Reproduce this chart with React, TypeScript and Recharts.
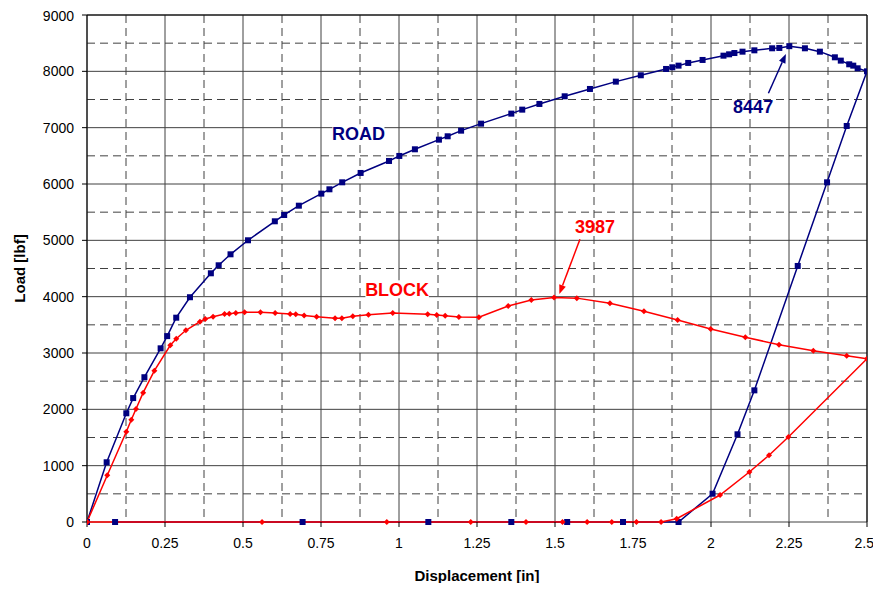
import React from 'react';
import { LineChart, Line, XAxis, YAxis, CartesianGrid, ReferenceLine, ReferenceDot, Label } from 'recharts';

// ROAD: loading curve, unload ramp, then back along zero
const roadX = [0, 0.063, 0.126, 0.148, 0.184, 0.236, 0.257, 0.286, 0.33, 0.397, 0.422, 0.46, 0.516, 0.602, 0.632, 0.679, 0.751, 0.777, 0.818, 0.877, 0.968, 1.001, 1.051, 1.128, 1.156, 1.199, 1.263, 1.36, 1.395, 1.45, 1.531, 1.612, 1.695, 1.775, 1.856, 1.876, 1.896, 1.927, 1.973, 2.04, 2.058, 2.075, 2.101, 2.139, 2.196, 2.219, 2.251, 2.301, 2.349, 2.397, 2.416, 2.443, 2.456, 2.47, 2.5, 2.435, 2.372, 2.278, 2.139, 2.085, 2.005, 1.896, 1.718, 1.539, 1.36, 1.094, 0.691, 0.09];
const roadY = [0, 1060, 1930, 2200, 2570, 3083, 3300, 3627, 3990, 4415, 4557, 4752, 5001, 5338, 5450, 5615, 5829, 5906, 6030, 6196, 6409, 6498, 6616, 6787, 6847, 6947, 7071, 7249, 7320, 7421, 7557, 7687, 7817, 7930, 8042, 8072, 8101, 8149, 8202, 8278, 8302, 8325, 8349, 8373, 8409, 8415, 8447, 8409, 8349, 8249, 8190, 8125, 8101, 8054, 8000, 7030, 6030, 4545, 2337, 1557, 502, 0, 0, 0, 0, 0, 0, 0];

const blockX = [0, 0.065, 0.126, 0.142, 0.157, 0.18, 0.216, 0.267, 0.286, 0.317, 0.362, 0.379, 0.404, 0.441, 0.456, 0.477, 0.505, 0.556, 0.603, 0.651, 0.669, 0.696, 0.736, 0.795, 0.817, 0.852, 0.902, 0.98, 1.092, 1.121, 1.148, 1.192, 1.256, 1.35, 1.424, 1.497, 1.57, 1.676, 1.785, 1.893, 1.999, 2.11, 2.218, 2.328, 2.435, 2.5, 2.248, 2.186, 2.123, 2.029, 1.89, 1.84, 1.761, 1.682, 1.603, 1.524, 1.407, 1.23, 0.961, 0.561, 0];
const blockY = [0, 829, 1603, 1816, 2006, 2296, 2686, 3137, 3254, 3403, 3556, 3604, 3645, 3692, 3698, 3710, 3723, 3723, 3710, 3692, 3687, 3666, 3642, 3616, 3616, 3651, 3680, 3710, 3687, 3675, 3663, 3639, 3634, 3835, 3941, 3987, 3974, 3882, 3740, 3586, 3426, 3279, 3148, 3041, 2952, 2899, 1509, 1184, 888, 479, 59, 0, 0, 0, 0, 0, 0, 0, 0, 0, 0];

const xTicks = [0, 0.25, 0.5, 0.75, 1, 1.25, 1.5, 1.75, 2, 2.25, 2.5];
const yTicks = [0, 1000, 2000, 3000, 4000, 5000, 6000, 7000, 8000, 9000];
const xMinor = [0.125, 0.375, 0.625, 0.875, 1.125, 1.375, 1.625, 1.875, 2.125, 2.375];
const yMinor = [500, 1500, 2500, 3500, 4500, 5500, 6500, 7500, 8500];

const roadData = roadX.map((x, i) => ({ x, y: roadY[i] }));
const blockData = blockX.map((x, i) => ({ x, y: blockY[i] }));

const NAVY = '#000080';
const RED = '#FF0000';
const FONT = '"Liberation Sans", Arial, sans-serif';

const squareDot = (p: any) => (
  <rect key={`r${p.index}`} x={p.cx - 3} y={p.cy - 3} width={6} height={6} fill={NAVY} />
);
const diamondDot = (p: any) => (
  <path key={`b${p.index}`} d={`M${p.cx},${p.cy - 3}L${p.cx + 3},${p.cy}L${p.cx},${p.cy + 3}L${p.cx - 3},${p.cy}Z`} fill={RED} />
);

const arrow = (color: string) => (p: any) => {
  const { x1, y1, x2, y2 } = p;
  const a = Math.atan2(y2 - y1, x2 - x1);
  const L = 9, W = 3.5;
  const bx = x2 - L * Math.cos(a), by = y2 - L * Math.sin(a);
  const nx = -Math.sin(a) * W, ny = Math.cos(a) * W;
  return (
    <g>
      <line x1={x1} y1={y1} x2={bx} y2={by} stroke={color} strokeWidth={1.5} />
      <path d={`M${x2},${y2}L${bx + nx},${by + ny}L${bx - nx},${by - ny}Z`} fill={color} />
    </g>
  );
};

const tag = (text: string, color: string, bg: boolean) => (p: any) => {
  const w = text.length * 11.5 + 6;
  return (
    <g>
      {bg && <rect x={p.cx - w / 2} y={p.cy - 9} width={w} height={18} fill="#fff" />}
      <text x={p.cx} y={p.cy} dy="0.36em" textAnchor="middle" fill={color} fontFamily={FONT} fontWeight="bold" fontSize={18}>{text}</text>
    </g>
  );
};

const tickStyle = { fill: '#000', fontSize: 14, fontFamily: FONT };

export default function App() {
  return (
    <LineChart width={865} height={575} margin={{ top: 7, right: 6, bottom: 0, left: 0 }}>
      <CartesianGrid stroke="#404040" horizontalValues={yMinor} verticalValues={xMinor} strokeDasharray="8 5" />
      <CartesianGrid stroke="#404040" horizontalValues={yTicks} verticalValues={xTicks} />
      <XAxis
        type="number"
        dataKey="x"
        domain={[0, 2.5]}
        ticks={xTicks}
        tick={tickStyle}
        tickSize={5}
        tickMargin={11}
        height={61}
        stroke="#000"
        axisLine={false}
        allowDataOverflow
      >
        <Label value="Displacement [in]" position="insideBottom" offset={2} fill="#000" fontSize={15} fontWeight="bold" fontFamily={FONT} />
      </XAxis>
      <YAxis
        type="number"
        domain={[0, 9000]}
        ticks={yTicks}
        tick={tickStyle}
        tickSize={5}
        tickMargin={8}
        width={79}
        stroke="#000"
        label={{
          content: (props: any) => {
            const vb = props.viewBox;
            const cx = vb.x + 12;
            const cy = vb.y + vb.height / 2;
            return (
              <text x={cx} y={cy} dy="0.36em" transform={`rotate(-90 ${cx} ${cy})`} textAnchor="middle" fill="#000" fontSize={15} fontWeight="bold" fontFamily={FONT}>Load [lbf]</text>
            );
          },
        }}
      />
      <ReferenceLine y={9000} stroke="#000" />
      <ReferenceLine x={2.5} stroke="#000" />
      <Line data={roadData} dataKey="y" type="linear" stroke={NAVY} strokeWidth={1.5} dot={squareDot} activeDot={false} isAnimationActive={false} />
      <Line data={blockData} dataKey="y" type="linear" stroke={RED} strokeWidth={1.5} dot={diamondDot} activeDot={false} isAnimationActive={false} />
      <ReferenceLine segment={[{ x: 2.184, y: 7611 }, { x: 2.24, y: 8308 }]} shape={arrow(NAVY)} />
      <ReferenceLine segment={[{ x: 1.58, y: 5019 }, { x: 1.514, y: 4048 }]} shape={arrow(RED)} />
      <ReferenceDot x={0.87} y={6900} r={0} shape={tag('ROAD', NAVY, true)} />
      <ReferenceDot x={0.994} y={4131} r={0} shape={tag('BLOCK', RED, true)} />
      <ReferenceDot x={2.135} y={7373} r={0} shape={tag('8447', NAVY, false)} />
      <ReferenceDot x={1.628} y={5242} r={0} shape={tag('3987', RED, false)} />
    </LineChart>
  );
}
